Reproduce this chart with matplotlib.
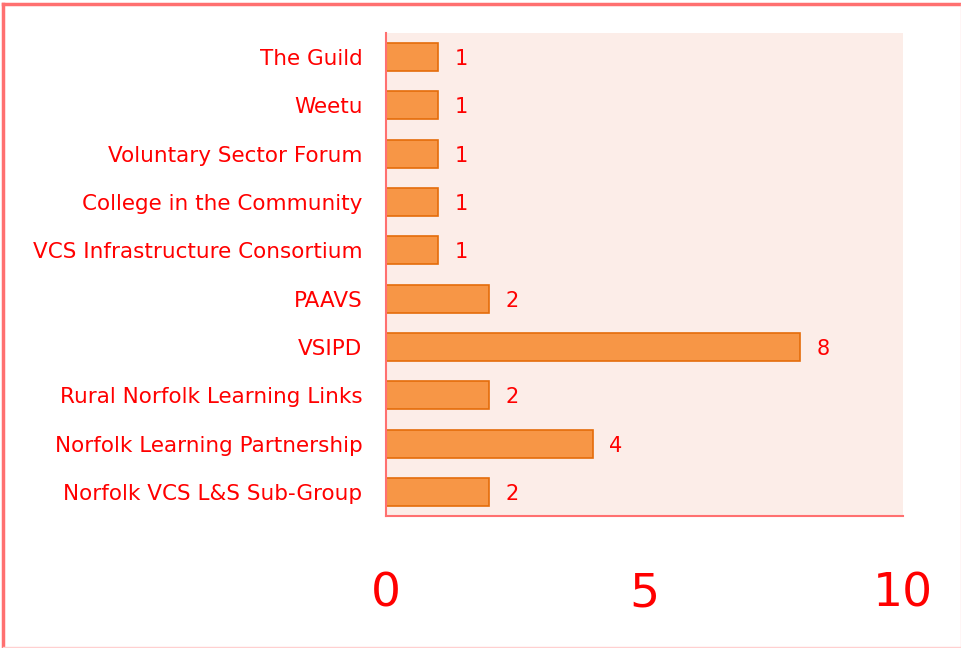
import matplotlib
matplotlib.use("Agg")
import matplotlib.pyplot as plt
from matplotlib.lines import Line2D

categories = ["The Guild", "Weetu", "Voluntary Sector Forum", "College in the Community",
              "VCS Infrastructure Consortium", "PAAVS", "VSIPD", "Rural Norfolk Learning Links",
              "Norfolk Learning Partnership", "Norfolk VCS L&S Sub-Group"]
values = [1, 1, 1, 1, 1, 2, 8, 2, 4, 2]
xticks = [0, 5, 10]

plt.rcParams['font.family'] = ['DejaVu Sans']
fig = plt.figure(figsize=(9.62, 6.48), dpi=100)
ax = fig.add_axes([386/962, 1-516/648, (903-386)/962, (516-33)/648])
ax.set_facecolor('#FCEDE8')

ypos = list(range(len(categories)))[::-1]
ax.barh(ypos, values, height=0.58, color='#F79646', edgecolor='#E46C0A', linewidth=1.2, zorder=2)
for y, v in zip(ypos, values):
    ax.text(v + 0.32, y, str(v), va='center_baseline', ha='left', color='red', fontsize=15)

ax.set_ylim(-0.5, len(categories) - 0.5)
ax.set_xlim(0, 10)
ax.set_yticks(ypos)
ax.set_yticklabels(categories, color='red', fontsize=15.5)
ax.set_xticks(xticks)
ax.set_xticklabels([str(t) for t in xticks], color='red', fontsize=34)
ax.tick_params(axis='y', length=0, pad=17)
ax.tick_params(axis='x', length=0, pad=40)
for s in ['top', 'right']:
    ax.spines[s].set_visible(False)
for s in ['left', 'bottom']:
    ax.spines[s].set_color('#FF7070')
    ax.spines[s].set_linewidth(1.5)

W, H = 962, 648
fig.lines.append(Line2D([3/W, 961/W], [1-4/H, 1-4/H], transform=fig.transFigure, color='#FF7070', linewidth=2.5))
fig.lines.append(Line2D([3/W, 3/W], [1-4/H, 1/H], transform=fig.transFigure, color='#FF7070', linewidth=2.5))
fig.lines.append(Line2D([961/W, 961/W], [1-4/H, 1/H], transform=fig.transFigure, color='#FFD0D0', linewidth=1))
fig.lines.append(Line2D([3/W, 961/W], [1/H, 1/H], transform=fig.transFigure, color='#FFD0D0', linewidth=1))
fig.savefig('out.png', dpi=100)
